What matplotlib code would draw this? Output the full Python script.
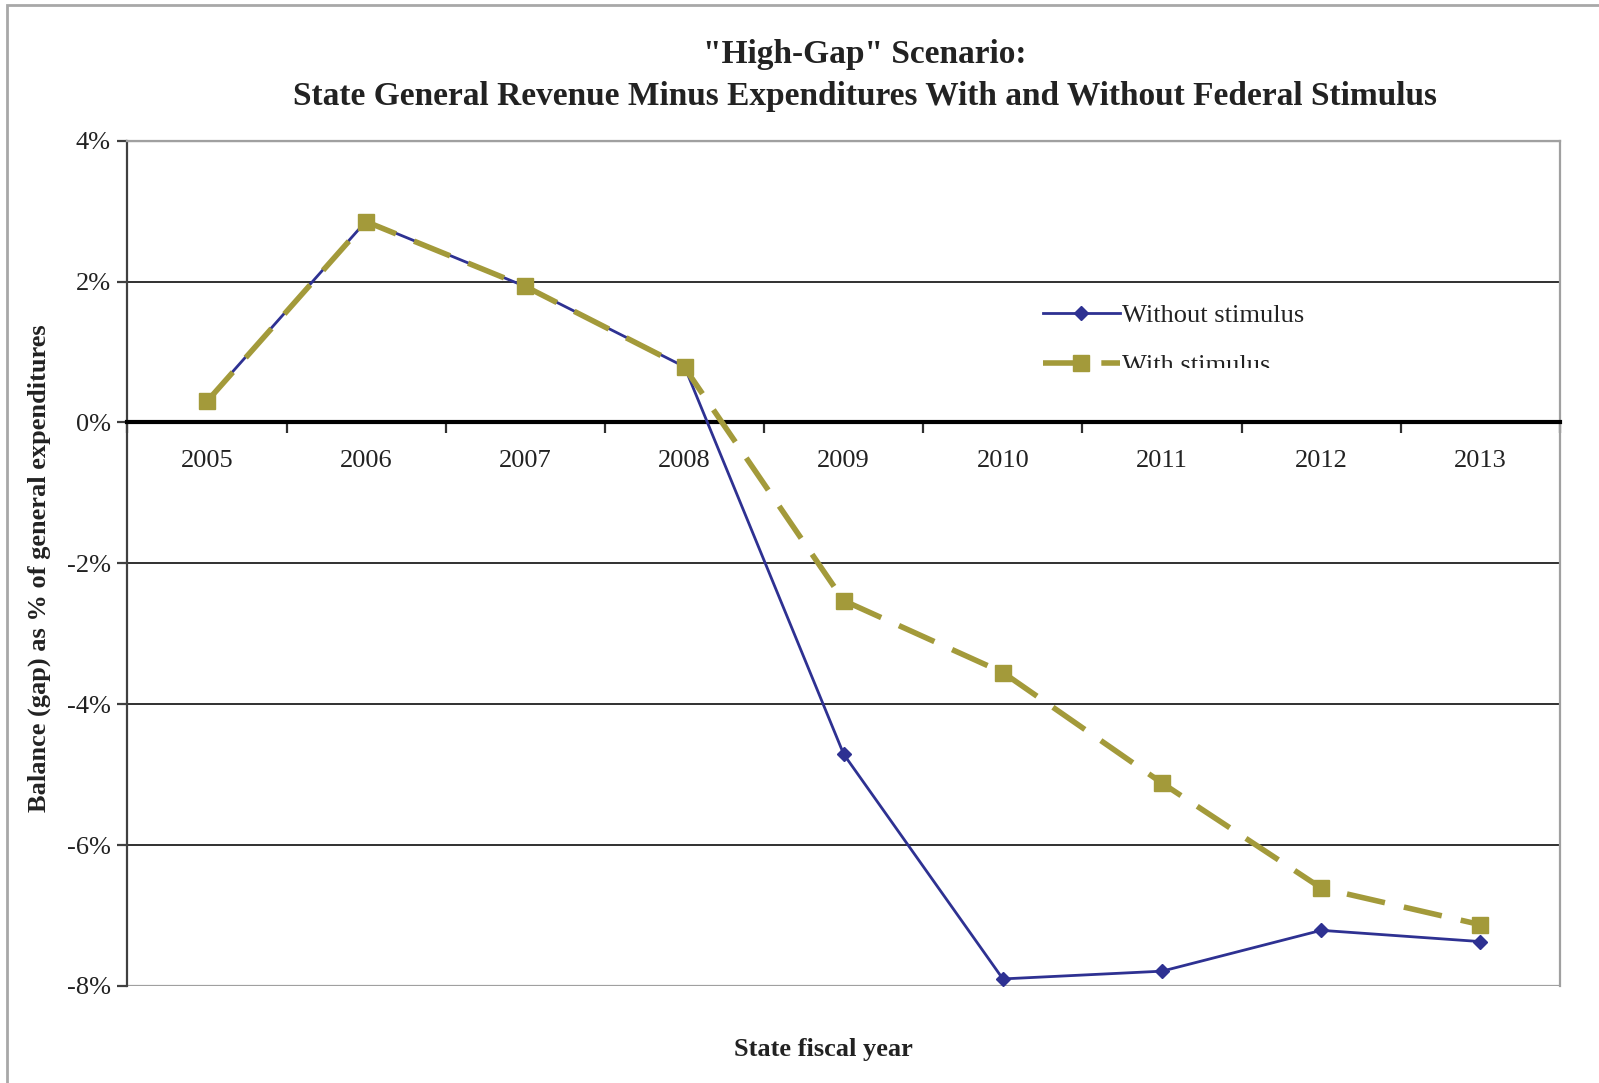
import matplotlib
matplotlib.use('Agg')
import matplotlib.pyplot as plt
from matplotlib.patches import Rectangle
from matplotlib.transforms import Bbox, TransformedBbox

plt.rcParams['font.family'] = ['Liberation Serif', 'DejaVu Serif']

# Data (% of general expenditures)
years = ['2005', '2006', '2007', '2008', '2009', '2010', '2011', '2012', '2013']
without_stimulus = [0.31, 2.86, 1.93, 0.79, -4.71, -7.90, -7.79, -7.21, -7.37]
with_stimulus = [0.30, 2.85, 1.93, 0.78, -2.53, -3.55, -5.12, -6.61, -7.13]
y_ticks = [-8, -6, -4, -2, 0, 2, 4]

blue = '#2E3192'
olive = '#A39A3A'

fig = plt.figure(figsize=(15.99, 10.83), dpi=100)
ax = fig.add_axes([0.0797, 0.0896, 0.9756 - 0.0797, 0.8701 - 0.0896])

x = list(range(len(years)))

# horizontal gridlines
for v in y_ticks:
    if v in (y_ticks[0], y_ticks[-1]):
        ax.axhline(v, color='#a0a0a0', lw=1.6, zorder=1)
    elif v != 0:
        ax.axhline(v, color='#303030', lw=1.4, zorder=1)

ax.plot(x, without_stimulus, color=blue, lw=2, marker='D', markersize=7,
        label='Without stimulus', zorder=3)
ax.plot(x, with_stimulus, color=olive, lw=4, ls=(0, (7, 3.5)), marker='s',
        markersize=12, label='With stimulus', zorder=4)

ax.set_xlim(-0.5, len(years) - 0.5)
ax.set_ylim(-8, 4)

# x axis sits on zero
ax.spines['bottom'].set_position(('data', 0))
ax.spines['bottom'].set_linewidth(3)
ax.spines['bottom'].set_color('black')
ax.spines['left'].set_color('#404040')
ax.spines['left'].set_linewidth(1.6)
ax.spines['top'].set_color('#a0a0a0')
ax.spines['top'].set_linewidth(1.6)
ax.spines['right'].set_color('#a0a0a0')
ax.spines['right'].set_linewidth(1.6)

ax.set_xticks(x)
ax.set_xticklabels(years)
ax.set_xticks([i - 0.5 for i in range(len(years) + 1)], minor=True)
ax.tick_params(axis='x', which='major', length=0, pad=20, labelsize=19, labelcolor='#222222')
ax.tick_params(axis='x', which='minor', length=8, width=1.6, direction='out', color='#303030')

ax.set_yticks(y_ticks)
ax.set_yticklabels([f'{v}%' for v in y_ticks])
ax.tick_params(axis='y', length=7, width=1.6, color='#404040', pad=5, labelsize=19,
               labelcolor='#222222')

leg = ax.legend(loc='upper left', bbox_to_anchor=(0.63, 0.823), frameon=False,
                fontsize=19, handlelength=2.9, handletextpad=0.1, labelspacing=1.0,
                borderpad=0)
# the reference cuts off the lower part of the second legend label
clip = TransformedBbox(Bbox([[0, 1 - 368 / 1083], [1, 1]]), fig.transFigure)
for t in leg.get_texts():
    t.set_color('#222222')
    t.set_clip_on(True)
    t.set_clip_box(clip)

fig.text(0.541, 0.950, '"High-Gap" Scenario:', ha='center', va='center',
         fontsize=24, fontweight='bold', color='#222222')
fig.text(0.541, 0.911, 'State General Revenue Minus Expenditures With and Without Federal Stimulus',
         ha='center', va='center', fontsize=24, fontweight='bold', color='#222222')
fig.text(0.0244, 0.4755, 'Balance (gap) as % of general expenditures', rotation=90,
         ha='center', va='center', fontsize=19, fontweight='bold', color='#222222')
fig.text(0.515, 0.0313, 'State fiscal year', ha='center', va='center',
         fontsize=19, fontweight='bold', color='#222222')

# outer chart frame
fig.patches.append(Rectangle((7 / 1599, -0.1), 1.2, 1 - 5 / 1083 + 0.1,
                             transform=fig.transFigure, fill=False,
                             edgecolor='#a8a8a8', lw=2))

fig.savefig('out.png', dpi=100)
